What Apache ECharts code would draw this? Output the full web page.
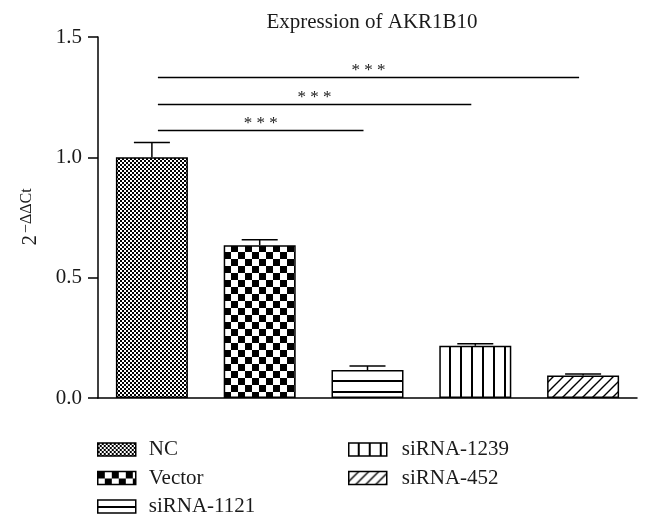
<!DOCTYPE html>
<html>
<head>
<meta charset="utf-8">
<script src="https://cdn.jsdelivr.net/npm/echarts@6/dist/echarts.min.js"></script>
<style>
  html, body { margin: 0; padding: 0; background: #fff; }
  #main { width: 652px; height: 527px; }
</style>
</head>
<body>
<div id="main"></div>
<script>
// data
var categories = ['NC', 'Vector', 'siRNA-1121', 'siRNA-1239', 'siRNA-452'];
var means = [1.0, 0.635, 0.116, 0.217, 0.093];
var errTops = [1.062, 0.658, 0.133, 0.225, 0.100];
var sigFrom = [0, 0, 0];
var sigTo = [2, 3, 4];
var sigY = [1.112, 1.22, 1.332];
var sigText = ['* * *', '* * *', '* * *'];
var yTicks = [0, 0.5, 1.0, 1.5];

var FONT = '"Liberation Serif", "DejaVu Serif", serif';
var INK = '#1a1a1a';

// fill patterns for each bar
function tile(w, h, draw, ox, oy) {
  var c = document.createElement('canvas');
  c.width = w; c.height = h;
  var g = c.getContext('2d');
  g.fillStyle = '#fff';
  g.fillRect(0, 0, w, h);
  g.fillStyle = '#000';
  g.strokeStyle = '#000';
  draw(g);
  return { image: c, repeat: 'repeat', x: ox || 0, y: oy || 0 };
}
var patterns = [
  tile(4, 4, function (g) { g.fillRect(0, 0, 2, 2); g.fillRect(2, 2, 2, 2); }),
  tile(14, 14, function (g) { g.fillRect(0, 0, 7, 7); g.fillRect(7, 7, 7, 7); }),
  tile(11, 11, function (g) { g.fillRect(0, 0, 11, 2); }, 0, 6),
  tile(11, 11, function (g) { g.fillRect(0, 0, 2, 11); }, 9, 0),
  tile(10, 10, function (g) {
    g.lineWidth = 1.4;
    g.beginPath();
    g.moveTo(-1, 11); g.lineTo(11, -1);
    g.moveTo(-6, 6); g.lineTo(6, -6);
    g.moveTo(4, 16); g.lineTo(16, 4);
    g.stroke();
  })
];

var barSeries = categories.map(function (name, i) {
  return {
    name: name,
    type: 'bar',
    barWidth: 72,
    barGap: '-100%',
    data: means.map(function (v, j) { return j === i ? v : '-'; }),
    itemStyle: { color: patterns[i], borderColor: '#000', borderWidth: 1.5 },
    emphasis: { disabled: true },
    silent: true
  };
});

var errData = means.map(function (v, i) { return [i, v, errTops[i]]; });
var sigData = sigFrom.map(function (f, i) { return [f, sigTo[i], sigY[i], sigText[i]]; });

var legendBase = {
  orient: 'vertical', top: 439, padding: 0,
  icon: 'rect', itemWidth: 38, itemHeight: 13, itemGap: 7.5,
  itemStyle: { borderColor: '#000', borderWidth: 1.5 },
  selectedMode: false
};

var chart = echarts.init(document.getElementById('main'));
chart.setOption({
  animation: false,
  title: {
    text: 'Expression of AKR1B10',
    left: 367, top: 7, textAlign: 'center',
    textStyle: { fontFamily: FONT, fontSize: 21, fontWeight: 'normal', color: INK }
  },
  // y axis title 2^-ΔΔCt, rotated
  graphic: [{
    type: 'text',
    x: 30, y: 217,
    rotation: Math.PI / 2,
    silent: true,
    style: {
      text: '{b|2}{s|\u2212\u0394\u0394Ct}',
      align: 'center', verticalAlign: 'middle',
      rich: {
        b: { fontFamily: FONT, fontSize: 21, fill: INK, verticalAlign: 'bottom' },
        s: { fontFamily: FONT, fontSize: 16, fill: INK, verticalAlign: 'bottom', padding: [0, 0, 6, 2] }
      }
    }
  }],
  legend: [
    Object.assign({}, legendBase, {
      data: categories.slice(0, 3), left: 97,
      textStyle: { fontFamily: FONT, fontSize: 21, color: INK, lineHeight: 21, padding: [0, 0, 0, 8] }
    }),
    Object.assign({}, legendBase, {
      data: categories.slice(3), left: 348,
      textStyle: { fontFamily: FONT, fontSize: 21, color: INK, lineHeight: 21, padding: [0, 0, 0, 10] }
    })
  ],
  grid: { left: 98, right: 15, top: 37, bottom: 129 },
  xAxis: {
    type: 'category',
    data: categories,
    axisLine: { lineStyle: { color: '#000', width: 1.5 } },
    axisTick: { show: false },
    axisLabel: { show: false }
  },
  yAxis: {
    type: 'value',
    min: 0, max: 1.5, interval: 0.5,
    axisLine: { show: true, lineStyle: { color: '#000', width: 1.5 } },
    axisTick: { show: true, length: 10, lineStyle: { color: '#000', width: 1.5 } },
    axisLabel: {
      margin: 16,
      fontFamily: FONT, fontSize: 21, color: INK,
      formatter: function (v) { return yTicks.indexOf(v) >= 0 ? v.toFixed(1) : ''; }
    },
    splitLine: { show: false }
  },
  series: barSeries.concat([
    {
      type: 'custom',
      silent: true,
      z: 5,
      data: errData,
      renderItem: function (params, api) {
        var base = api.coord([api.value(0), api.value(1)]);
        var top = api.coord([api.value(0), api.value(2)]);
        var half = 18;
        var st = { stroke: '#000', lineWidth: 1.5 };
        return {
          type: 'group',
          children: [
            { type: 'line', shape: { x1: base[0], y1: base[1], x2: top[0], y2: top[1] }, style: st },
            { type: 'line', shape: { x1: top[0] - half, y1: top[1], x2: top[0] + half, y2: top[1] }, style: st }
          ]
        };
      }
    },
    {
      type: 'custom',
      silent: true,
      z: 5,
      data: sigData,
      renderItem: function (params, api) {
        var a = api.coord([api.value(0), api.value(2)]);
        var b = api.coord([api.value(1), api.value(2)]);
        var x1 = a[0] + 6, x2 = b[0] - 4;
        return {
          type: 'group',
          children: [
            { type: 'line', shape: { x1: x1, y1: a[1], x2: x2, y2: a[1] }, style: { stroke: '#000', lineWidth: 1.5 } },
            {
              type: 'text',
              style: {
                x: (x1 + x2) / 2, y: a[1] + 2,
                text: api.value(3),
                fontFamily: FONT, fontSize: 17, fill: INK,
                align: 'center', verticalAlign: 'bottom'
              }
            }
          ]
        };
      }
    }
  ])
});
</script>
</body>
</html>
